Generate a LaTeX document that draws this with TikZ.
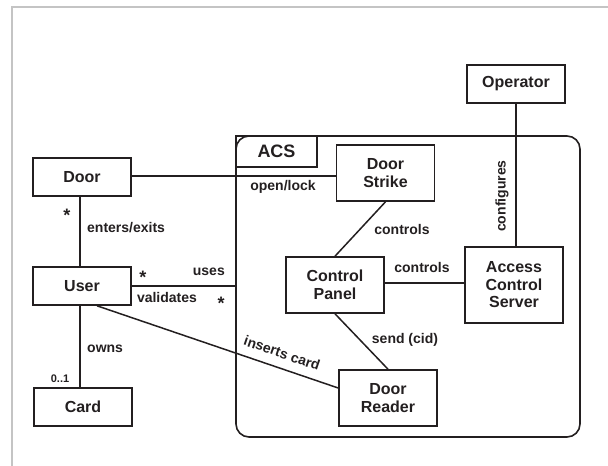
\documentclass[tikz,border=0pt]{standalone}
\usepackage{fontspec}
\setmainfont{Liberation Sans}
\usetikzlibrary{calc}
\definecolor{ink}{HTML}{231F20}
\definecolor{frame}{HTML}{C4C4C4}
\tikzset{
  box/.style={draw=ink, line width=1.6pt, minimum width=98pt, minimum height=38pt, inner sep=0pt, align=center,
    font=\fontsize{16}{17.5}\selectfont\bfseries, text=ink},
  tallbox/.style={box, minimum height=56pt},
  conn/.style={draw=ink, line width=1.5pt},
  lbl/.style={font=\fontsize{14}{16}\selectfont\bfseries, text=ink, inner sep=0pt},
  mult/.style={font=\fontsize{18}{20}\selectfont\bfseries, text=ink, inner sep=0pt, anchor=base},
}
\begin{document}
\begin{tikzpicture}[x=1pt,y=-1pt]
\useasboundingbox (0,0) rectangle (608,466);
% gray page frame
\draw[frame, line width=2pt] (12,470) -- (12,7) -- (612,7);
% ACS frame
\node[draw=ink, line width=1.6pt, rounded corners=13pt, minimum width=344pt, minimum height=301pt, inner sep=0pt] (acs) at (408,286.5) {};
\node[draw=ink, line width=1.6pt, anchor=north west, minimum width=81pt, minimum height=31pt, inner sep=0pt,
  font=\fontsize{18}{20}\selectfont\bfseries, text=ink] (acstab) at (acs.north west) {ACS};
% class boxes
\node[box] (door) at (82,177) {Door};
\node[box] (user) at (82,286) {User};
\node[box] (card) at (83,407) {Card};
\node[box] (operator) at (516,84) {Operator};
\node[tallbox] (strike) at (385.5,173) {Door\\Strike};
\node[tallbox] (panel) at (335,285) {Control\\Panel};
\node[box, minimum height=76pt] (server) at (514,285) {Access\\Control\\Server};
\node[tallbox] (reader) at (388,398) {Door\\Reader};
% connectors
\draw[conn] ([xshift=-2pt]door.south) -- ([xshift=-2pt]user.north);
\draw[conn] ([xshift=-2pt]user.south) -- ([xshift=-3pt]card.north);
\draw[conn] ([yshift=1pt]door.east) -- ([yshift=1pt]door.east -| strike.west);
\draw[conn] (user.east) -- (user.east -| acs.west);
\draw[conn] ([xshift=15pt]user.south) -- ([yshift=10pt]reader.west);
\draw[conn] (strike.south) -- (panel.north);
\draw[conn] ([yshift=2pt]panel.east) -- ([yshift=2pt]panel.east -| server.west);
\draw[conn] (panel.south) -- (reader.north);
\draw[conn] (operator.south) -- (operator.south |- server.north);
% labels
\node[mult] (m1) at (67,221) {*};
\node[lbl, anchor=west] (l1) at (87,228) {enters/exits};
\node[mult] (m2) at (143,283) {*};
\node[lbl, anchor=east] (l2) at (225,272) {uses};
\node[lbl] (l3) at (167,297) {validates};
\node[mult] (m3) at (221,309) {*};
\node[lbl, anchor=west] (l4) at (87,349) {owns};
\node[lbl, font=\fontsize{11}{12}\selectfont\bfseries] (l5) at (60,379) {0..1};
\node[lbl] (l6) at (283,187) {open/lock};
\node[lbl] (l7) at (402,229) {controls};
\node[lbl] (l8) at (422,267) {controls};
\node[lbl] (l9) at (405,340) {send (cid)};
\node[lbl, rotate=90] (l10) at (502,196) {configures};
\node[lbl, rotate=-19] (l11) at (282,353) {inserts card};
\end{tikzpicture}
\end{document}
